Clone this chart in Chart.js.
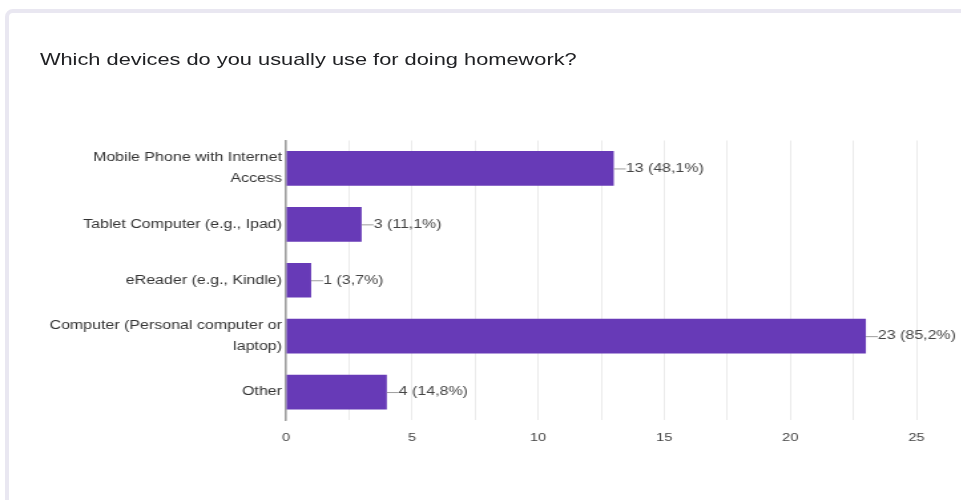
<!DOCTYPE html>
<html>
<head>
<meta charset="utf-8">
<script src="https://cdn.jsdelivr.net/npm/chart.js@4.4.1/dist/chart.umd.min.js"></script>
<style>
  body { margin: 0; background: #fff; width: 961px; height: 500px; overflow: hidden; position: relative; font-family: "Liberation Sans", Arial, sans-serif; }
  .card { position: absolute; left: 5px; top: 9px; width: 1000px; height: 600px; border: 4px solid #e9e7f1; border-radius: 8px; box-sizing: border-box; }
  /* screenshot is stretched horizontally, so scale the content the same way */
  .content { position: absolute; left: 0; top: 0; width: 723px; height: 500px; transform: scaleX(1.33); transform-origin: 0 0; }
  .title { position: absolute; left: 30px; top: 50px; font-size: 16.4px; color: #202124; white-space: nowrap; }
  .chartBox { position: absolute; left: 0; top: 127px; width: 723px; height: 333px; }
</style>
</head>
<body>
<div class="card"></div>
<div class="content">
  <div class="title">Which devices do you usually use for doing homework?</div>
  <div class="chartBox"><canvas id="devicesChart"></canvas></div>
</div>
<script>
const categories = [
  ['Mobile Phone with Internet', 'Access'],
  'Tablet Computer (e.g., Ipad)',
  'eReader (e.g., Kindle)',
  ['Computer (Personal computer or', 'laptop)'],
  'Other'
];
const responses = [13, 3, 1, 23, 4];
const totalRespondents = 27;

const barColor = '#673ab7';

// value labels "13 (48,1%)" with a little connector line
const valueLabels = {
  id: 'valueLabels',
  afterDatasetsDraw(chart) {
    const ctx = chart.ctx;
    const meta = chart.getDatasetMeta(0);
    ctx.save();
    ctx.font = '12px "Liberation Sans", Arial, sans-serif';
    ctx.textBaseline = 'middle';
    meta.data.forEach((bar, i) => {
      const v = responses[i];
      const pct = (v / totalRespondents * 100).toFixed(1).replace('.', ',');
      const x = bar.x;
      const y = bar.y;
      ctx.strokeStyle = '#9e9e9e';
      ctx.lineWidth = 1;
      ctx.beginPath();
      ctx.moveTo(x, y + 0.5);
      ctx.lineTo(x + 9, y + 0.5);
      ctx.stroke();
      ctx.fillStyle = '#444';
      ctx.fillText(`${v} (${pct}%)`, x + 9, y);
    });
    ctx.restore();
  }
};

const ctx = document.getElementById('devicesChart').getContext('2d');
new Chart(ctx, {
  type: 'bar',
  data: {
    labels: categories,
    datasets: [{
      data: responses,
      backgroundColor: barColor,
      borderWidth: 0,
      categoryPercentage: 1,
      barPercentage: 0.62
    }]
  },
  options: {
    indexAxis: 'y',
    responsive: true,
    maintainAspectRatio: false,
    animation: false,
    layout: { padding: { top: 7, right: 34, left: 0, bottom: 0 } },
    plugins: {
      legend: { display: false },
      tooltip: { enabled: false }
    },
    scales: {
      x: {
        min: 0,
        max: 25,
        ticks: {
          stepSize: 2.5,
          padding: 11,
          color: '#444',
          font: { family: '"Liberation Sans", Arial, sans-serif', size: 11 },
          callback: v => (v % 5 === 0 ? v : '')
        },
        grid: { color: '#ebebeb', drawTicks: false },
        border: { display: false },
        afterFit: scale => { scale.height = 40; }
      },
      y: {
        ticks: {
          padding: 3,
          color: '#333',
          font: { family: '"Liberation Sans", Arial, sans-serif', size: 12, lineHeight: 1.75 }
        },
        grid: { display: false, drawTicks: false },
        border: { display: true, color: '#9e9e9e', width: 1.5 },
        afterFit: scale => { scale.width = 215; }
      }
    }
  },
  plugins: [valueLabels]
});
</script>
</body>
</html>
